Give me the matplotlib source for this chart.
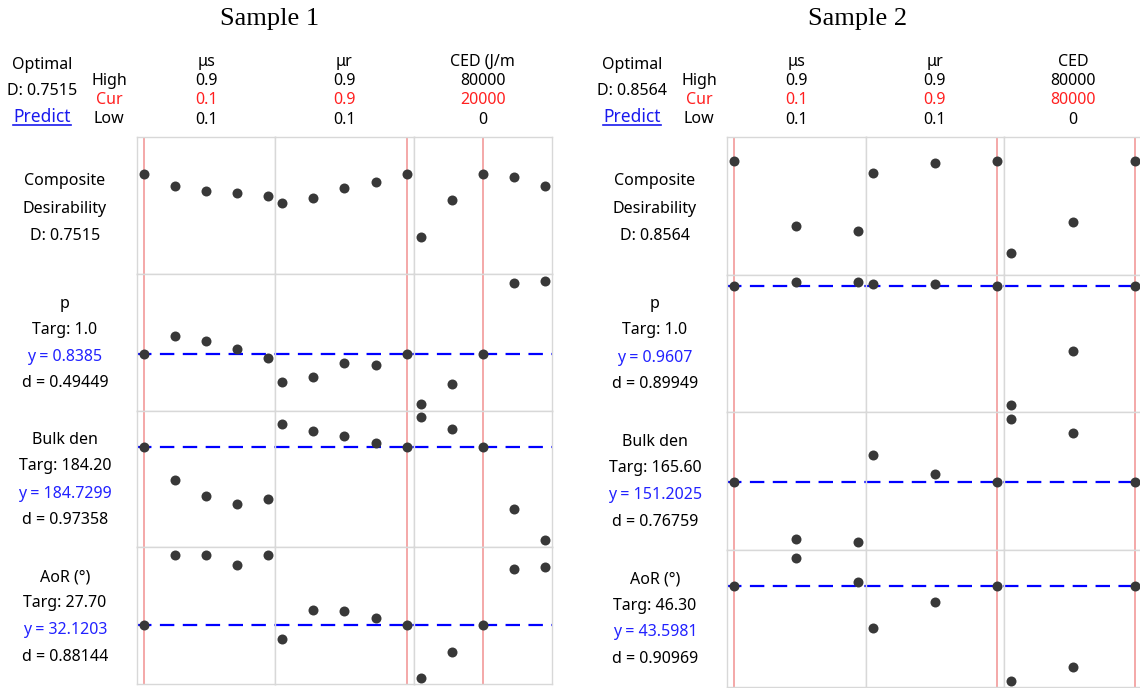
import matplotlib.pyplot as plt
from matplotlib.lines import Line2D

plt.rcParams['font.family'] = ['Noto Sans', 'DejaVu Sans']

# ---- data ----
titles = ['Sample 1', 'Sample 2']
factor_names = [['μs', 'μr', 'CED (J/m'], ['μs', 'μr', 'CED']]
factor_low = [0.1, 0.1, 0]
factor_high = [0.9, 0.9, 80000]
high_labels = [['0.9', '0.9', '80000'], ['0.9', '0.9', '80000']]
cur_labels = [['0.1', '0.9', '20000'], ['0.1', '0.9', '80000']]
low_labels = [['0.1', '0.1', '0'], ['0.1', '0.1', '0']]
optimal_d = ['D: 0.7515', 'D: 0.8564']

row_labels = [
    [['Composite', 'Desirability', 'D: 0.7515'],
     ['p', 'Targ: 1.0', 'y = 0.8385', 'd = 0.49449'],
     ['Bulk den', 'Targ: 184.20', 'y = 184.7299', 'd = 0.97358'],
     ['AoR (°)', 'Targ: 27.70', 'y = 32.1203', 'd = 0.88144']],
    [['Composite', 'Desirability', 'D: 0.8564'],
     ['p', 'Targ: 1.0', 'y = 0.9607', 'd = 0.89949'],
     ['Bulk den', 'Targ: 165.60', 'y = 151.2025', 'd = 0.76759'],
     ['AoR (°)', 'Targ: 46.30', 'y = 43.5981', 'd = 0.90969']],
]

# factor settings where the points sit
s1_levels = [[0.1, 0.3, 0.5, 0.7, 0.9], [0.1, 0.3, 0.5, 0.7, 0.9],
             [0, 20000, 40000, 60000, 80000]]
s2_levels = [[0.1, 0.5, 0.9], [0.1, 0.5, 0.9], [0, 40000, 80000]]

# response values, scaled 0..1 inside each panel (row x column)
s1_vals = [
    [[0.729, 0.642, 0.605, 0.591, 0.569], [0.517, 0.554, 0.627, 0.671, 0.729],
     [0.269, 0.539, 0.729, 0.707, 0.642]],
    [[0.413, 0.545, 0.508, 0.450, 0.384], [0.208, 0.245, 0.347, 0.333, 0.413],
     [0.048, 0.194, 0.413, 0.932, 0.947]],
    [[0.733, 0.492, 0.375, 0.316, 0.353], [0.901, 0.850, 0.814, 0.762, 0.733],
     [0.952, 0.865, 0.733, 0.279, 0.053]],
    [[0.431, 0.943, 0.943, 0.870, 0.943], [0.329, 0.541, 0.534, 0.483, 0.431],
     [0.044, 0.234, 0.431, 0.841, 0.856]],
]
s2_vals = [
    [[0.825, 0.353, 0.316], [0.738, 0.811, 0.825], [0.156, 0.382, 0.825]],
    [[0.916, 0.945, 0.945], [0.931, 0.931, 0.916], [0.051, 0.444, 0.916]],
    [[0.491, 0.076, 0.055], [0.687, 0.549, 0.491], [0.949, 0.847, 0.491]],
    [[0.735, 0.938, 0.764], [0.429, 0.618, 0.735], [0.044, 0.145, 0.735]],
]
levels = [s1_levels, s2_levels]
vals = [s1_vals, s2_vals]

# current factor lines (red) and current responses (blue dashed)
red_lines = [[0.1, 0.9, 40000], [0.1, 0.9, 80000]]
blue_lines = [[None, 0.41, 0.73, 0.431], [None, 0.916, 0.491, 0.735]]

# ---- layout (pixels) ----
W, H = 1140, 688
grid_left = [137, 727]
grid_top = 137
col_w = [138.3, 138.5]
row_h = [136.75, 137.5]
title_x = [270, 858]
pad = 7.0 / 124.0

RED_TXT = '#ff2020'
BLUE_TXT = '#2222ff'
DOT = '#383838'
GRID = '#d8d8d8'
RED_LINE = '#f29a9a'

fig = plt.figure(figsize=(W / 100, H / 100), dpi=100)


def fx(px):
    return px / W


def fy(py):
    return 1 - py / H


fs = 11.5
for s in range(2):
    L = grid_left[s]
    cw = col_w[s]
    rh = row_h[s]
    fig.text(fx(title_x[s]), fy(19), titles[s], ha='center', va='center',
             family='Liberation Serif', fontsize=19)

    # left header block
    fig.text(fx(L - 95), fy(65), 'Optimal', ha='center', va='center', fontsize=fs)
    fig.text(fx(L - 95), fy(91), optimal_d[s], ha='center', va='center', fontsize=fs)
    pred = fig.text(fx(L - 95), fy(117), 'Predict', ha='center', va='center',
                    fontsize=fs + 1, color='#1a1aee')
    for lab, py, col in [('High', 81, 'black'), ('Cur', 100, RED_TXT), ('Low', 119, 'black')]:
        fig.text(fx(L - 28), fy(py), lab, ha='center', va='center', fontsize=fs, color=col)

    for c in range(3):
        cx = L + (c + 0.5) * cw
        fig.text(fx(cx), fy(62), factor_names[s][c], ha='center', va='center', fontsize=fs)
        fig.text(fx(cx), fy(81), high_labels[s][c], ha='center', va='center', fontsize=fs)
        fig.text(fx(cx), fy(100), cur_labels[s][c], ha='center', va='center',
                 fontsize=fs, color=RED_TXT)
        fig.text(fx(cx), fy(120), low_labels[s][c], ha='center', va='center', fontsize=fs)

    # row labels
    for r in range(4):
        lines = row_labels[s][r]
        top = grid_top + r * rh
        offs = [44, 72, 99.5] if len(lines) == 3 else [30, 56, 83, 109.5]
        for i, t in enumerate(lines):
            col = BLUE_TXT if t.startswith('y =') else 'black'
            fig.text(fx(L - 72), fy(top + offs[i]), t, ha='center', va='center',
                     fontsize=fs, color=col)

    # panels
    for r in range(4):
        for c in range(3):
            left = L + c * cw
            bottom = grid_top + (r + 1) * rh
            ax = fig.add_axes([fx(left), fy(bottom), cw / W, rh / H])
            lo, hi = factor_low[c], factor_high[c]
            span = hi - lo
            ax.set_xlim(lo - pad * span, hi + pad * span)
            ax.set_ylim(0, 1)
            ax.set_xticks([])
            ax.set_yticks([])
            for sp in ax.spines.values():
                sp.set_color(GRID)
                sp.set_linewidth(1)
            ax.axvline(red_lines[s][c], color=RED_LINE, lw=1.2, zorder=1)
            if blue_lines[s][r] is not None:
                ax.axhline(blue_lines[s][r], color='#0000ff', lw=1.6,
                           dashes=(6.5, 3.8), zorder=2)
            ax.plot(levels[s][c], vals[s][r][c], 'o', color=DOT, ms=7.2,
                    mec='none', clip_on=False, zorder=3)

    fig.canvas.draw()
    bb = pred.get_window_extent()
    x0, x1 = bb.x0 / W, bb.x1 / W
    yline = (bb.y0 + 1.5) / H
    fig.add_artist(Line2D([x0, x1], [yline, yline], color='#1a1aee', lw=1.2))

fig.savefig('out.png', dpi=100)
